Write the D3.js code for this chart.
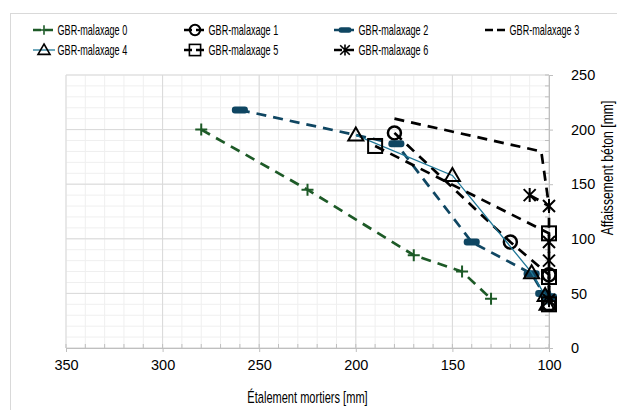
<!DOCTYPE html>
<html>
<head>
<meta charset="utf-8">
<script src="https://cdn.jsdelivr.net/npm/d3@7"></script>
<style>
  body { margin: 0; background: #fff; }
  text { font-family: "Liberation Sans", Arial, sans-serif; fill: #000; }
</style>
</head>
<body>
<svg id="chart" width="617" height="410"></svg>
<script>
// data: [etalement mortiers, affaissement beton]
var names = ["GBR-malaxage 0", "GBR-malaxage 1", "GBR-malaxage 2", "GBR-malaxage 3",
             "GBR-malaxage 4", "GBR-malaxage 5", "GBR-malaxage 6"];
var s0 = [[280, 200], [225, 145], [170, 85], [145, 70], [130, 45]];
var s1 = [[180, 197], [120, 97], [100, 67], [100, 40]];
var s2 = [[260, 218], [179, 187], [140, 97], [109, 68], [103, 50], [100, 47]];
var s3 = [[180, 210], [104, 180], [100, 130]];
var s4 = [[200, 195], [150, 158], [109, 69], [102, 48], [101, 40]];
var s5 = [[190, 185], [100, 105], [100, 65], [100, 40]];
var s6 = [[110, 140], [100, 130], [100, 97], [100, 80], [100, 44]];
var xTicks = [350, 300, 250, 200, 150, 100];
var yTicks = [0, 50, 100, 150, 200, 250];

var colors = ["#1d5a27", "#000000", "#0f4662", "#000000", "#1f7797", "#000000", "#000000"];
var markers = ["plus", "circle", "bar", "none", "triangle", "square", "cross"];
var dashed = [true, true, true, true, false, true, true];
var seriesData = [s0, s1, s2, s3, s4, s5, s6];

var svg = d3.select("#chart");
var pLeft = 66, pRight = 549, pTop = 75, pBottom = 348;

// outer chart border
svg.append("rect").attr("x", 10.5).attr("y", 13.5).attr("width", 640).attr("height", 420)
    .attr("fill", "none").attr("stroke", "#d9d9d9");

var x = d3.scaleLinear().domain([350, 100]).range([pLeft, pRight]);
var y = d3.scaleLinear().domain([0, 250]).range([pBottom, pTop]);

// grid
var g = svg.append("g");
g.selectAll(".minx").data(d3.range(100, 351, 10)).enter().append("line")
    .attr("x1", d => x(d)).attr("x2", d => x(d)).attr("y1", pTop).attr("y2", pBottom)
    .attr("stroke", "#efefef");
g.selectAll(".miny").data(d3.range(0, 251, 10)).enter().append("line")
    .attr("x1", pLeft).attr("x2", pRight).attr("y1", d => y(d)).attr("y2", d => y(d))
    .attr("stroke", "#efefef");
g.selectAll(".majx").data(xTicks).enter().append("line")
    .attr("x1", d => x(d)).attr("x2", d => x(d)).attr("y1", pTop).attr("y2", pBottom)
    .attr("stroke", "#d9d9d9");
g.selectAll(".majy").data(yTicks).enter().append("line")
    .attr("x1", pLeft).attr("x2", pRight).attr("y1", d => y(d)).attr("y2", d => y(d))
    .attr("stroke", "#d9d9d9");

// axes
var xAxis = svg.append("g").attr("transform", "translate(0," + pBottom + ")")
    .call(d3.axisBottom(x).tickValues(xTicks).tickSize(4).tickPadding(8));
var yAxis = svg.append("g").attr("transform", "translate(" + pRight + ",0)")
    .call(d3.axisRight(y).tickValues(yTicks).tickSize(4).tickPadding(18));
[xAxis, yAxis].forEach(function (a) {
    a.select(".domain").attr("stroke", "#bfbfbf");
    a.selectAll(".tick line").attr("stroke", "#bfbfbf");
    a.selectAll("text").style("font-size", "14.5px").style("font-family", "Liberation Sans, Arial, sans-serif");
});
// minor ticks pointing inside
svg.append("g").selectAll("line").data(d3.range(100, 351, 10)).enter().append("line")
    .attr("x1", d => x(d)).attr("x2", d => x(d)).attr("y1", pBottom).attr("y2", pBottom - 4)
    .attr("stroke", "#bfbfbf");
svg.append("g").selectAll("line").data(d3.range(0, 251, 10)).enter().append("line")
    .attr("x1", pRight).attr("x2", pRight - 4).attr("y1", d => y(d)).attr("y2", d => y(d))
    .attr("stroke", "#bfbfbf");

svg.append("text").attr("transform", "translate(" + ((pLeft + pRight) / 2) + ",403) scale(0.67,1)")
    .attr("text-anchor", "middle").style("font-size", "16.5px").text("Étalement mortiers [mm]");
svg.append("text").attr("transform", "translate(613,168) rotate(-90) scale(0.74,1)")
    .attr("text-anchor", "middle").style("font-size", "16.5px").text("Affaissement béton [mm]");

function drawMarker(sel, type, color) {
    if (type === "plus") {
        sel.append("path").attr("d", "M-6,0H6M0,-6V6").attr("stroke", color).attr("stroke-width", 2).attr("fill", "none");
    } else if (type === "circle") {
        sel.append("circle").attr("r", 6.5).attr("fill", "none").attr("stroke", color).attr("stroke-width", 2.5);
    } else if (type === "bar") {
        sel.append("rect").attr("x", -8).attr("y", -3.5).attr("width", 16).attr("height", 7).attr("rx", 3)
            .attr("fill", color);
    } else if (type === "triangle") {
        sel.append("path").attr("d", "M0,-7.5L7.5,5.5H-7.5Z").attr("fill", "none").attr("stroke", "#000").attr("stroke-width", 2);
    } else if (type === "square") {
        sel.append("rect").attr("x", -7).attr("y", -7).attr("width", 14).attr("height", 14)
            .attr("fill", "none").attr("stroke", color).attr("stroke-width", 2);
    } else if (type === "cross") {
        sel.append("path").attr("d", "M-6,-6L6,6M-6,6L6,-6M0,-7V7").attr("stroke", color).attr("stroke-width", 2).attr("fill", "none");
    }
}

var line = d3.line().x(d => x(d[0])).y(d => y(d[1]));

seriesData.forEach(function (data, i) {
    var grp = svg.append("g");
    grp.append("path").datum(data).attr("d", line).attr("fill", "none")
        .attr("stroke", colors[i])
        .attr("stroke-width", dashed[i] ? 2.7 : 1.3)
        .attr("stroke-dasharray", dashed[i] ? "10,7" : null);
    grp.selectAll(".m").data(data).enter().append("g")
        .attr("transform", d => "translate(" + x(d[0]) + "," + y(d[1]) + ")")
        .each(function () { drawMarker(d3.select(this), markers[i], colors[i]); });
});

// legend
var legX = [33, 184, 334, 485];
var legend = svg.append("g");
names.forEach(function (n, i) {
    var lx = legX[i % 4], ly = i < 4 ? 30 : 50;
    var it = legend.append("g").attr("transform", "translate(" + lx + "," + ly + ")");
    it.append("line").attr("x1", 0).attr("x2", 22).attr("y1", 0).attr("y2", 0)
        .attr("stroke", colors[i]).attr("stroke-width", dashed[i] ? 2.7 : 1.3)
        .attr("stroke-dasharray", dashed[i] ? "8,4" : null);
    var mk = it.append("g");
    drawMarker(mk, markers[i], colors[i]);
    mk.attr("transform", "translate(11,0) scale(0.8)");
    it.append("text").attr("transform", "translate(24.5,5) scale(0.65,1)")
        .style("font-size", "14px").text(n);
});
</script>
</body>
</html>
